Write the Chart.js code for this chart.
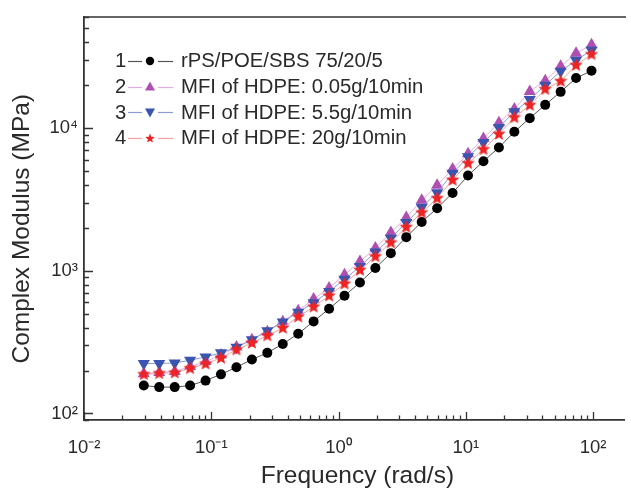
<!DOCTYPE html>
<html>
<head>
<meta charset="utf-8">
<script src="https://cdn.jsdelivr.net/npm/chart.js@4"></script>
<style>
  html, body { margin: 0; padding: 0; background: #fff; }
  #wrap { position: relative; width: 631px; height: 491px; }
  #legend {
    position: absolute; left: 115px; top: 48px;
    font-family: Arial, "Liberation Sans", sans-serif; font-size: 20.3px; color: #2a2a2a;
  }
  #legend .row { height: 25.7px; display: flex; align-items: center; white-space: nowrap; }
  #legend .num { width: 12px; }
  #legend svg { margin: 0 4px 0 0; }
</style>
</head>
<body>
<div id="wrap">
  <canvas id="chart" width="631" height="491"></canvas>
  <div id="legend"></div>
</div>
<script>
// --- data ---
const frequency = [0.0295, 0.0390, 0.0516, 0.0682, 0.0902, 0.1192, 0.1577, 0.2085, 0.2757, 0.3645,
  0.482, 0.637, 0.843, 1.114, 1.473, 1.948, 2.576, 3.406, 4.503, 5.954,
  7.87, 10.41, 13.76, 18.20, 24.06, 31.81, 42.06, 55.6, 73.5, 97.2];

const blend75 = [157, 153, 153, 157, 170, 188, 211, 239, 266, 307,
  362, 442, 542, 668, 828, 1045, 1330, 1721, 2200, 2744,
  3510, 4655, 5860, 7310, 9420, 11750, 14560, 17950, 22440, 25230];

const hdpe005 = [190, 194, 197, 213, 231, 257, 292, 329, 374, 440,
  525, 634, 757, 938, 1161, 1442, 1854, 2366, 3121, 3974,
  5164, 6603, 8472, 10920, 13620, 18080, 21480, 27160, 33440, 38370];

const hdpe55 = [224, 224, 226, 236, 249, 266, 291, 329, 380, 438,
  513, 597, 716, 871, 1072, 1355, 1694, 2178, 2789, 3529,
  4819, 6295, 7943, 10110, 13000, 15880, 19990, 25060, 29900, 35090];

const hdpe20 = [188, 191, 193, 207, 223, 245, 280, 312, 351, 397,
  476, 559, 668, 811, 1011, 1259, 1577, 2022, 2559, 3224,
  4328, 5666, 7096, 9078, 11880, 14490, 18740, 21320, 27590, 32910];

const seriesNames = [
  "rPS/POE/SBS 75/20/5",
  "MFI of HDPE: 0.05g/10min",
  "MFI of HDPE: 5.5g/10min",
  "MFI of HDPE: 20g/10min"
];

const xTicks = [0.01, 0.1, 1, 10, 100];
const yTicks = [100, 1000, 10000];
const xRange = [0.01, 175];
const yRange = [90, 60000];

// --- helpers ---
const SUP = { "-": "\u207B", "0": "\u2070", "1": "\u00B9", "2": "\u00B2", "3": "\u00B3", "4": "\u2074" };
const powerLabel = (v) => {
  const e = String(Math.round(Math.log10(v)));
  return "10" + e.split("").map(c => SUP[c]).join("");
};

const toPoints = (ys) => frequency.map((f, i) => ({ x: f, y: ys[i] }));

// filled five point star used as a point style
const makeStar = (color, r) => {
  const c = document.createElement("canvas");
  c.width = c.height = Math.ceil(r * 2 + 2);
  const g = c.getContext("2d");
  const cx = c.width / 2, cy = c.height / 2;
  g.beginPath();
  for (let i = 0; i < 10; i++) {
    const rr = i % 2 === 0 ? r : r * 0.45;
    const a = -Math.PI / 2 + i * Math.PI / 5;
    g.lineTo(cx + rr * Math.cos(a), cy + rr * Math.sin(a));
  }
  g.closePath();
  g.fillStyle = color;
  g.fill();
  return c;
};

const styles = [
  { mark: "#000000", line: "#555555", pointStyle: "circle", radius: 5, rotation: 0 },
  { mark: "#b04fb2", line: "#e2aee2", pointStyle: "triangle", radius: 7, rotation: 0 },
  { mark: "#3a55b0", line: "#8b9bd6", pointStyle: "triangle", radius: 7, rotation: 180 },
  { mark: "#ee2424", line: "#f5a0a0", pointStyle: makeStar("#ee2424", 7), radius: 6, rotation: 0 }
];

const values = [blend75, hdpe005, hdpe55, hdpe20];

const datasets = values.map((ys, i) => ({
  label: seriesNames[i],
  data: toPoints(ys),
  showLine: true,
  borderColor: styles[i].line,
  borderWidth: 1,
  backgroundColor: styles[i].mark,
  pointBorderColor: styles[i].mark,
  pointBackgroundColor: styles[i].mark,
  pointBorderWidth: 0,
  pointStyle: styles[i].pointStyle,
  pointRadius: styles[i].radius,
  pointRotation: styles[i].rotation,
  order: 4 - i
}));

// inward minor/major ticks plus the top frame line
const inwardTicks = {
  id: "inwardTicks",
  afterDraw(chart) {
    const { ctx, chartArea: a, scales: { x, y } } = chart;
    ctx.save();
    ctx.strokeStyle = "#333";
    ctx.lineWidth = 1.5;
    ctx.beginPath();
    ctx.moveTo(a.left, a.top);
    ctx.lineTo(a.right + 2, a.top);
    ctx.stroke();
    ctx.lineWidth = 1.3;
    ctx.beginPath();
    const decades = (s) => {
      const out = [];
      for (let k = Math.floor(Math.log10(s.min)); k <= Math.ceil(Math.log10(s.max)); k++) {
        for (let m = 1; m <= 9; m++) {
          const v = m * Math.pow(10, k);
          if (v >= s.min && v <= s.max) out.push({ v, major: m === 1 });
        }
      }
      return out;
    };
    decades(x).forEach(t => {
      const px = Math.round(x.getPixelForValue(t.v)) + 0.5;
      ctx.moveTo(px, a.bottom);
      ctx.lineTo(px, a.bottom - (t.major ? 8 : 4.5));
    });
    decades(y).forEach(t => {
      const py = Math.round(y.getPixelForValue(t.v)) + 0.5;
      ctx.moveTo(a.left, py);
      ctx.lineTo(a.left + (t.major ? 9 : 5), py);
    });
    ctx.stroke();
    ctx.restore();
  }
};

const tickFont = { family: "Arial, 'Liberation Sans', sans-serif", size: 18.5 };
const titleFont = { family: "Arial, 'Liberation Sans', sans-serif", size: 24.5 };

new Chart(document.getElementById("chart"), {
  type: "scatter",
  data: { datasets },
  options: {
    responsive: false,
    animation: false,
    layout: { padding: { top: 16, right: 1, left: 0, bottom: 0 } },
    plugins: { legend: { display: false }, tooltip: { enabled: false } },
    scales: {
      x: {
        type: "logarithmic",
        min: xRange[0], max: xRange[1],
        afterFit: (s) => { s.height = 71; },
        afterBuildTicks: (s) => { s.ticks = xTicks.map(v => ({ value: v })); },
        grid: { display: false, drawTicks: false },
        border: { display: true, color: "#333", width: 1.8 },
        ticks: { callback: (v) => powerLabel(v), font: tickFont, color: "#2a2a2a", padding: 17, maxRotation: 0, autoSkip: false },
        title: { display: true, text: "\u00A0Frequency (rad/s)", font: titleFont, color: "#2a2a2a", padding: { top: 0, bottom: 0 } }
      },
      y: {
        type: "logarithmic",
        min: yRange[0], max: yRange[1],
        afterFit: (s) => { s.width = 84; },
        afterBuildTicks: (s) => { s.ticks = yTicks.map(v => ({ value: v })); },
        grid: { display: false, drawTicks: false },
        border: { display: true, color: "#333", width: 1.8 },
        ticks: { callback: (v) => powerLabel(v), font: tickFont, color: "#2a2a2a", padding: 6, autoSkip: false },
        title: { display: true, text: "Complex Modulus (MPa)\u00A0\u00A0\u00A0", font: titleFont, color: "#2a2a2a", padding: { top: 8, bottom: 0 } }
      }
    }
  },
  plugins: [inwardTicks]
});

// legend, drawn as html so the text stays text
const legendEl = document.getElementById("legend");
const markerSvg = (i) => {
  const s = styles[i];
  let shape;
  if (i === 0) shape = `<circle cx="23" cy="7" r="4.2" fill="${s.mark}"/>`;
  else if (i === 1) shape = `<polygon points="23,1.5 28,10.5 18,10.5" fill="${s.mark}"/>`;
  else if (i === 2) shape = `<polygon points="18,3.5 28,3.5 23,12.5" fill="${s.mark}"/>`;
  else {
    const pts = [];
    for (let k = 0; k < 10; k++) {
      const rr = k % 2 === 0 ? 5 : 2.2;
      const a = -Math.PI / 2 + k * Math.PI / 5;
      pts.push((23 + rr * Math.cos(a)).toFixed(2) + "," + (7.5 + rr * Math.sin(a)).toFixed(2));
    }
    shape = `<polygon points="${pts.join(" ")}" fill="${s.mark}"/>`;
  }
  return `<svg width="50" height="14"><line x1="1" y1="7.5" x2="15" y2="7.5" stroke="${s.line}" stroke-width="1.2"/>` +
    `<line x1="31" y1="7.5" x2="46" y2="7.5" stroke="${s.line}" stroke-width="1.2"/>${shape}</svg>`;
};
seriesNames.forEach((name, i) => {
  legendEl.insertAdjacentHTML("beforeend",
    `<div class="row"><span class="num">${i + 1}</span>${markerSvg(i)}<span>${name}</span></div>`);
});
</script>
</body>
</html>
